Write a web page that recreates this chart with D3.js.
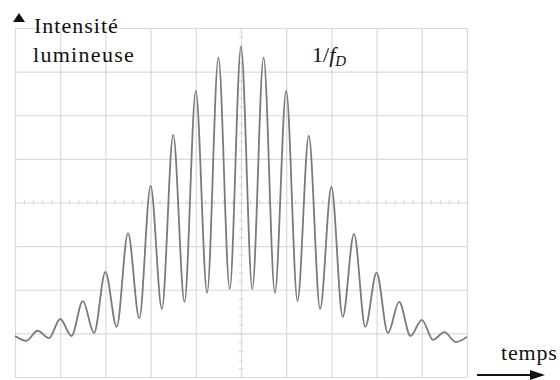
<!DOCTYPE html>
<html>
<head>
<meta charset="utf-8">
<script src="https://cdn.jsdelivr.net/npm/d3@7"></script>
<style>
  html, body { margin: 0; padding: 0; background: #fff; }
  svg { display: block; }
</style>
</head>
<body>
<svg id="chart" width="560" height="380"></svg>
<script>
// ---- data (time in screen divisions, intensity in screen divisions) ----
const time = [0, 0.25, 0.5, 0.75, 1, 1.25, 1.5, 1.75, 2, 2.25, 2.5, 2.75, 3, 3.25, 3.5, 3.75,
  4, 4.25, 4.5, 4.75, 5, 5.25, 5.5, 5.75, 6, 6.25, 6.5, 6.75, 7, 7.25, 7.5, 7.75,
  8, 8.25, 8.5, 8.75, 9, 9.25, 9.5, 9.75, 10];
const intensity = [0.94, 0.83, 1.06, 0.89, 1.33, 0.94, 1.74, 1.01, 2.41, 1.15, 3.30, 1.35,
  4.38, 1.56, 5.55, 1.72, 6.56, 1.93, 7.32, 2.02, 7.57, 2.02, 7.32, 1.93, 6.56, 1.74,
  5.53, 1.56, 4.36, 1.38, 3.28, 1.15, 2.39, 1.01, 1.72, 0.94, 1.31, 0.85, 1.03, 0.80, 0.92];
const xDivisions = [0, 1, 2, 3, 4, 5, 6, 7, 8, 9, 10];
const yDivisions = [0, 1, 2, 3, 4, 5, 6, 7, 8];
const yLabelLines = ["Intensité", "lumineuse"];
const xLabel = "temps";

// ---- layout ----
const SERIF = "'Liberation Serif', 'Times New Roman', Times, serif";
const svg = d3.select("#chart");
const mLeft = 15, mRight = 467, mTop = 28, mBottom = 377;
const x = d3.scaleLinear().domain([0, 10]).range([mLeft, mRight]);
const y = d3.scaleLinear().domain([0, 8]).range([mBottom, mTop]);

// grid
const gridColor = "#dadada";
const gx = svg.append("g").attr("transform", `translate(0,${mBottom})`)
  .call(d3.axisBottom(x).tickValues(xDivisions).tickSize(-(mBottom - mTop)).tickFormat(""));
const gy = svg.append("g").attr("transform", `translate(${mLeft},0)`)
  .call(d3.axisLeft(y).tickValues(yDivisions).tickSize(-(mRight - mLeft)).tickFormat(""));
[gx, gy].forEach(g => {
  g.select(".domain").remove();
  g.selectAll(".tick line").attr("stroke", gridColor).attr("stroke-width", 1.2);
});

// center lines with minor graduations
const minorX = d3.range(0, 10.001, 0.2);
const minorY = d3.range(0, 8.001, 0.2);
svg.append("g").attr("transform", `translate(0,${y(4) + 2})`)
  .call(d3.axisBottom(x).tickValues(minorX).tickSize(4).tickFormat(""))
  .call(g => { g.select(".domain").remove(); g.selectAll("line").attr("stroke", "#d2d2d2").attr("transform", "translate(0,-4)"); });
svg.append("g").attr("transform", `translate(${x(5) + 2},0)`)
  .call(d3.axisLeft(y).tickValues(minorY).tickSize(4).tickFormat(""))
  .call(g => { g.select(".domain").remove(); g.selectAll("line").attr("stroke", "#d2d2d2"); });

// signal
const pts = time.map((t, i) => [t, intensity[i]]);
svg.append("path")
  .datum(pts)
  .attr("fill", "none")
  .attr("stroke", "#7a7a7a")
  .attr("stroke-width", 1.8)
  .attr("stroke-linejoin", "round")
  .attr("d", d3.line().x(d => x(d[0])).y(d => y(d[1])).curve(d3.curveMonotoneX));

// y-axis arrow head (triangle)
svg.append("path")
  .attr("d", "M13,22 L19,13 L25,22 Z")
  .attr("fill", "#111");

// y label
svg.append("text").attr("x", 34).attr("y", 33)
  .attr("font-family", SERIF).attr("fill", "#111")
  .attr("font-size", 22).attr("letter-spacing", 1)
  .text(yLabelLines[0]);
svg.append("text").attr("x", 33).attr("y", 62)
  .attr("font-family", SERIF).attr("fill", "#111")
  .attr("font-size", 22).attr("letter-spacing", 1.3)
  .text(yLabelLines[1]);

// 1/f_D annotation
const ann = svg.append("text").attr("x", 312).attr("y", 62)
  .attr("font-family", SERIF).attr("fill", "#111").attr("font-size", 22);
ann.append("tspan").text("1/");
ann.append("tspan").attr("font-style", "italic").text("f");
ann.append("tspan").attr("font-style", "italic").attr("font-size", 15).attr("dy", 4).text("D");

// x label and arrow
svg.append("text").attr("x", 501).attr("y", 360)
  .attr("font-family", SERIF).attr("fill", "#111")
  .attr("font-size", 22).attr("letter-spacing", 0.8)
  .text(xLabel);
svg.append("line").attr("x1", 477).attr("x2", 534).attr("y1", 375).attr("y2", 375)
  .attr("stroke", "#111").attr("stroke-width", 2.2);
svg.append("path")
  .attr("d", "M530,370 L545,375 L530,380 Z")
  .attr("fill", "#111");
</script>
</body>
</html>
